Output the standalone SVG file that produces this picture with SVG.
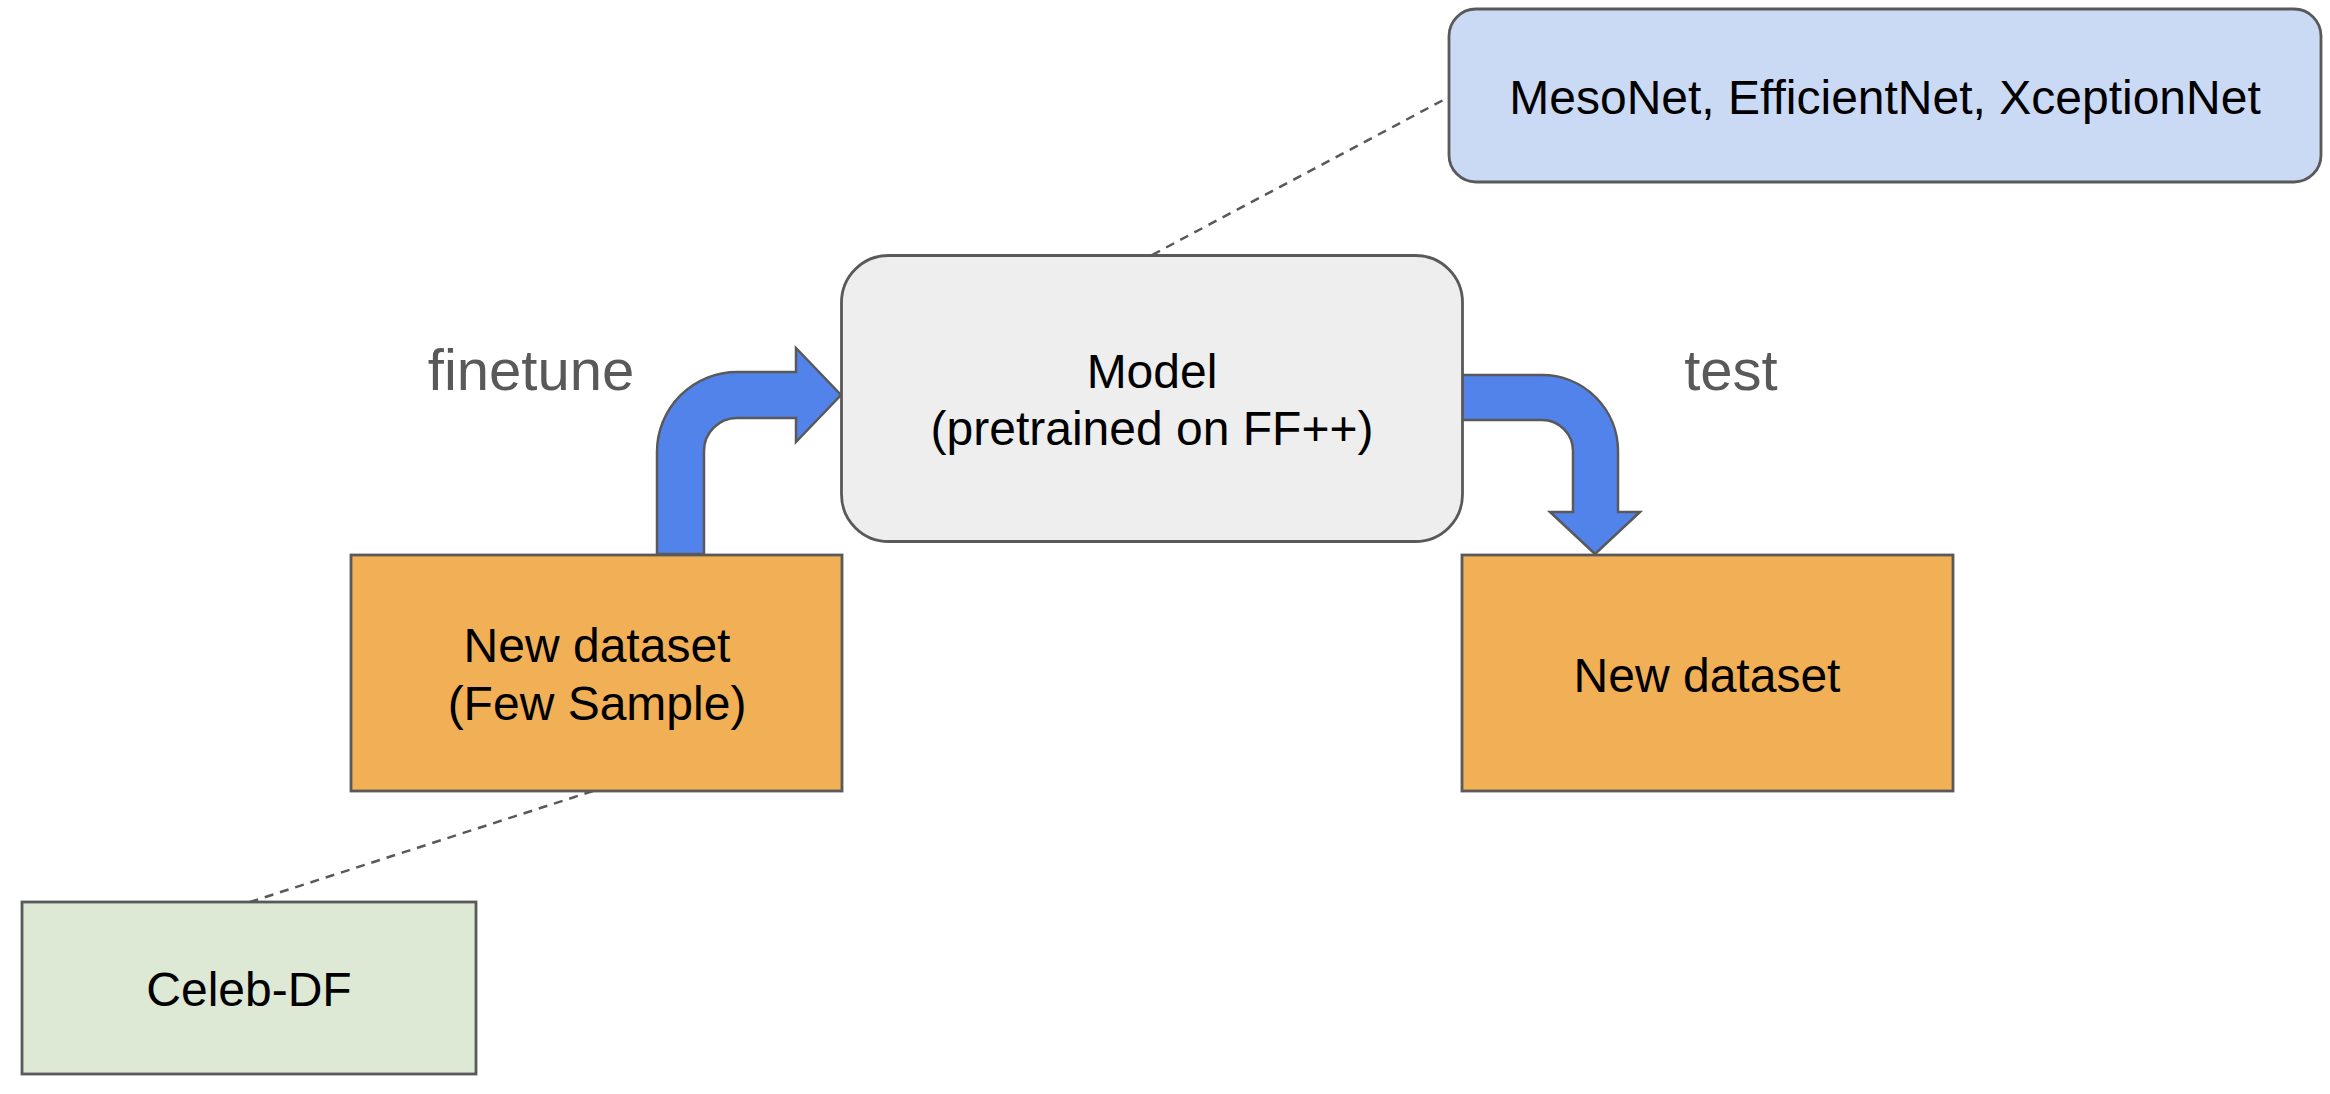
<svg xmlns="http://www.w3.org/2000/svg" width="2330" height="1094" viewBox="0 0 2330 1094">
<style>
.box{stroke:#595959;stroke-width:2.8}
.arrow{fill:#5283eb;stroke:#595959;stroke-width:2.5;stroke-linejoin:miter}
.dash{stroke:#595959;stroke-width:2.5;stroke-dasharray:9 7;fill:none}
.t{font-family:"Liberation Sans",Arial,sans-serif;font-size:48px;fill:#000;text-anchor:middle}
.lbl{font-family:"Liberation Sans",Arial,sans-serif;font-size:58px;fill:#595959;text-anchor:middle}
</style>
<rect width="2330" height="1094" fill="#ffffff"/>
<g id="connectors">
<line class="dash" x1="1152" y1="255" x2="1449" y2="97"/>
<line class="dash" x1="593" y1="791" x2="250" y2="902"/>
<path id="finetune-arrow" class="arrow" d="M657,554 L657,452 A80,80 0 0 1 737,372 L796,372 L796,348 L841,395 L796,442 L796,418 L737,418 A33,33 0 0 0 704,451 L704,554 Z"/>
<path id="test-arrow" class="arrow" d="M1462,375 L1542,375 A76,76 0 0 1 1618,451 L1618,512 L1640,512 L1595,554 L1550,512 L1573,512 L1573,451 A31,31 0 0 0 1542,420 L1462,420 Z"/>
<text class="lbl" x="531" y="390">finetune</text>
<text class="lbl" x="1731" y="390">test</text>
</g>
<g id="model">
<rect class="box" x="841.5" y="255.5" width="621" height="286" rx="47" ry="47" fill="#eeeeee"/>
<text class="t" x="1152" y="388">Model</text>
<text class="t" x="1152" y="445">(pretrained on FF++)</text>
</g>
<g id="backbones">
<rect class="box" x="1449" y="9" width="872" height="173" rx="27" ry="27" fill="#cbdaf4"/>
<text class="t" x="1885" y="114">MesoNet, EfficientNet, XceptionNet</text>
</g>
<g id="new-dataset-few">
<rect class="box" x="351" y="555" width="491" height="236" fill="#f1af56"/>
<text class="t" x="597" y="662">New dataset</text>
<text class="t" x="597" y="720">(Few Sample)</text>
</g>
<g id="new-dataset-test">
<rect class="box" x="1462" y="555" width="491" height="236" fill="#f1af56"/>
<text class="t" x="1707" y="692">New dataset</text>
</g>
<g id="celeb-df">
<rect class="box" x="22" y="902" width="454" height="172" fill="#dde8d5"/>
<text class="t" x="249" y="1006">Celeb-DF</text>
</g>
</svg>
